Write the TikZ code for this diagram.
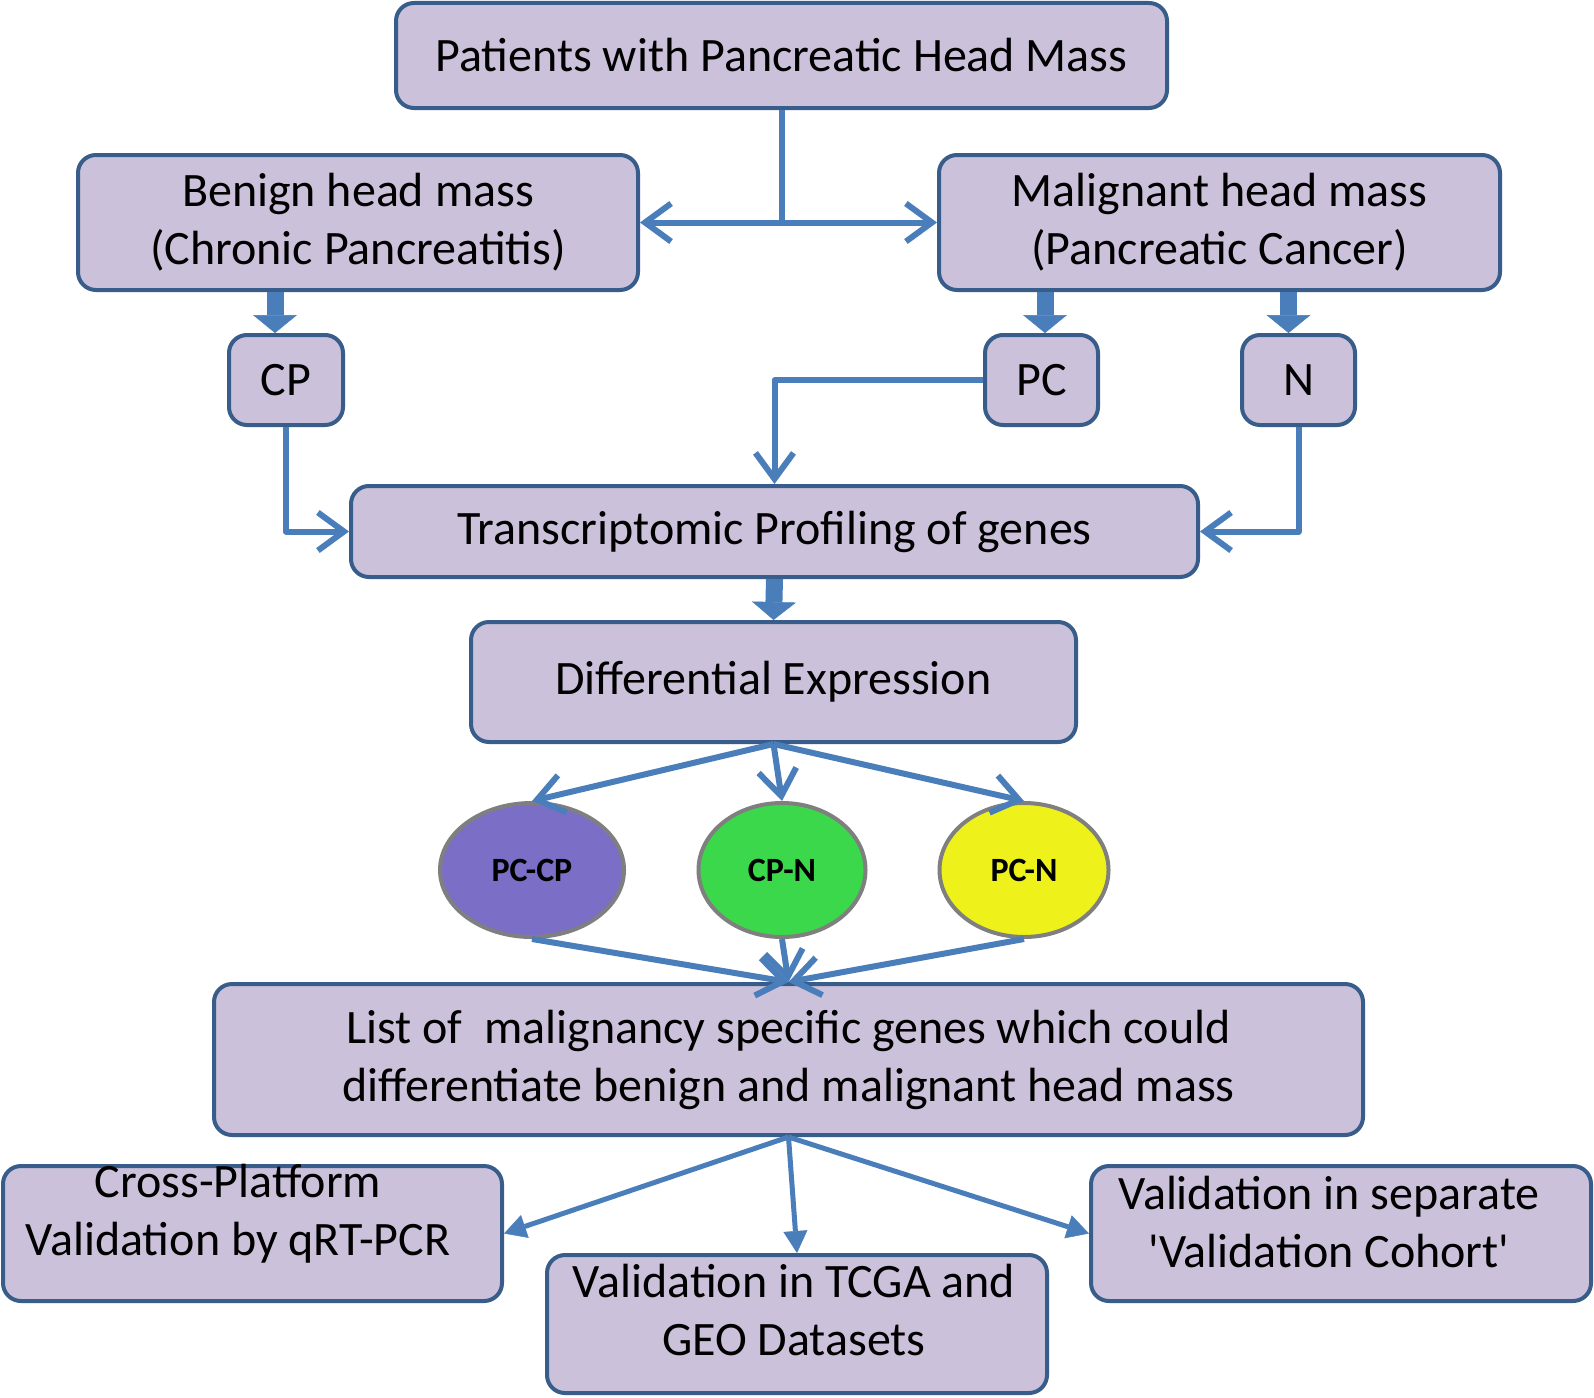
\documentclass[tikz,border=0pt]{standalone}
\usepackage{fontspec}
\setmainfont{Carlito}
\usetikzlibrary{arrows.meta,shapes.geometric}
\definecolor{boxfill}{HTML}{CCC1DA}
\definecolor{boxline}{HTML}{385D8A}
\definecolor{arrowblue}{HTML}{4A7EBB}
\definecolor{ellline}{HTML}{7F7F7F}
\definecolor{purp}{HTML}{7B6EC6}
\definecolor{grn}{HTML}{3AD84A}
\definecolor{yel}{HTML}{EEF21A}
\begin{document}
\begin{tikzpicture}[x=1pt,y=-1pt,
 box/.style={draw=boxline, fill=boxfill, line width=4pt, rounded corners=18pt, inner sep=0pt, align=center, font=\fontsize{48}{58}\selectfont},
 lbl/.style={inner sep=0pt, align=center, font=\fontsize{48}{58}\selectfont},
 oval/.style={ellipse, draw=ellline, line width=4pt, inner sep=0pt, font=\bfseries\fontsize{34}{40}\selectfont},
 conn/.style={draw=arrowblue, line width=6pt, line join=round, -{Straight Barb[length=26pt,width=38pt]}},
 plainline/.style={draw=arrowblue, line width=6pt},
 blk/.style={draw=arrowblue, line width=17pt, -{Triangle[length=18pt,width=44pt,line width=0.5pt]}},
 tri/.style={draw=arrowblue, line width=5pt, -{Triangle[length=22pt,width=24pt,line width=0.5pt]}}
]
\useasboundingbox (0,0) rectangle (1594,1397);
\fill[white] (0,0) rectangle (1594,1397);

\node[box, minimum width=771pt, minimum height=105pt] (top) at (781.5,55.5) {Patients with Pancreatic Head Mass};
\node[box, minimum width=560pt, minimum height=135pt] (benign) at (358,222.5) {Benign head mass\\(Chronic Pancreatitis)};
\node[box, minimum width=561pt, minimum height=135pt] (malig) at (1219.5,222.5) {Malignant head mass\\(Pancreatic Cancer)};
\node[box, minimum width=114pt, minimum height=90pt] (cp) at (286,380) {CP};
\node[box, minimum width=113pt, minimum height=90pt] (pc) at (1041.5,380) {PC};
\node[box, minimum width=113pt, minimum height=90pt] (n) at (1298.5,380) {N};
\node[box, minimum width=847pt, minimum height=91pt] (trans) at (774.5,531.5) {Transcriptomic Profiling of genes};
\node[box, minimum width=605pt, minimum height=120pt] (diff) at (773.5,682) {Differential Expression};
\node[oval, fill=purp, minimum width=184pt, minimum height=134pt] (pccp) at (532,870) {PC-CP};
\node[oval, fill=grn, minimum width=167pt, minimum height=134pt] (cpn) at (782,870) {CP-N};
\node[oval, fill=yel, minimum width=169pt, minimum height=134pt] (pcn) at (1024,870) {PC-N};
\node[box, minimum width=1149pt, minimum height=151pt] (list) at (788.5,1059.5) {List of~ malignancy specific genes which could\\differentiate benign and malignant head mass};
\node[box, minimum width=499pt, minimum height=135pt] (cross) at (252.5,1233.5) {};
\node[lbl] (crosst) at (238,1214) {Cross-Platform\\Validation by qRT-PCR};
\node[box, minimum width=500pt, minimum height=138pt] (tcga) at (797,1324) {};
\node[lbl] (tcgat) at (794,1310) {Validation in TCGA and\\GEO Datasets};
\node[box, minimum width=500pt, minimum height=135pt] (valid) at (1341,1233.5) {};
\node[lbl] (validt) at (1329,1222) {Validation in separate\\\textquotesingle Validation Cohort\textquotesingle};

\coordinate (split) at (top.south |- benign.east);
\draw[plainline] (top.south) -- (split);
\draw[conn] (split) -- (benign.east);
\draw[conn] (split) -- (malig.west);

\coordinate (cpin) at ([xshift=-11pt]cp.north);
\coordinate (pcin) at ([xshift=3.5pt]pc.north);
\coordinate (nin) at ([xshift=-10pt]n.north);
\draw[blk] (cpin |- benign.south) -- (cpin);
\draw[blk] (pcin |- malig.south) -- (pcin);
\draw[blk] (nin |- malig.south) -- (nin);

\draw[conn] (cp.south) |- (trans.west);
\draw[conn] (pc.west) -| (trans.north);
\draw[conn] (n.south) |- (trans.east);

\draw[blk] (trans.south) -- (diff.north);

\draw[conn] (diff.south) -- (pccp.north);
\draw[conn] (diff.south) -- (cpn.north);
\draw[conn] (diff.south) -- (pcn.north);

\draw[conn] (pccp.south) -- (list.north);
\draw[conn] (cpn.south) -- (list.north);
\draw[conn] (pcn.south) -- (list.north);

\draw[tri] (list.south) -- (cross.east);
\draw[tri] (list.south) -- (tcga.north);
\draw[tri] (list.south) -- (valid.west);
\end{tikzpicture}
\end{document}
